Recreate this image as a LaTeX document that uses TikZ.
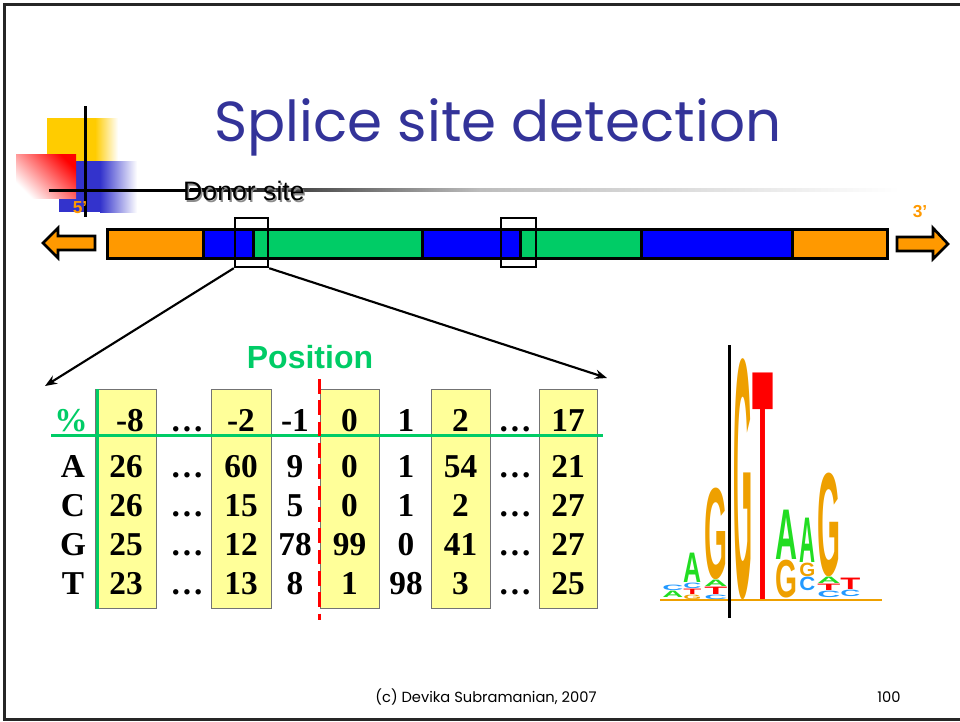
\documentclass[tikz,border=0pt]{standalone}
\usepackage{fontspec}
\usepackage{graphicx}
\setmainfont{Liberation Serif}
\setsansfont{Liberation Sans}
\newfontfamily\slidefont{Poppins}
\usetikzlibrary{arrows.meta, positioning}
\definecolor{ssOrange}{HTML}{FF9900}
\definecolor{ssBlue}{HTML}{0000FF}
\definecolor{ssGreen}{HTML}{00CC66}
\definecolor{ssTitle}{HTML}{333399}
\definecolor{ssYellow}{HTML}{FFFF99}
\definecolor{ssRed}{HTML}{FF0000}
\definecolor{ssGold}{HTML}{FFCC00}
\definecolor{ssDeco}{HTML}{3333CC}
\definecolor{lgA}{HTML}{22DD22}
\definecolor{lgC}{HTML}{2299FF}
\definecolor{lgG}{HTML}{EEA000}
\definecolor{lgT}{HTML}{FF0000}
\tikzset{
  exon/.style       = {draw=black, line width=2.25pt},
  blockarrow/.style = {fill=ssOrange, draw=black, line width=2pt, line join=miter},
  zoombox/.style    = {draw=black, line width=1.8pt, inner sep=0pt,
                       minimum width=24.75pt, minimum height=36.75pt},
  zoomarrow/.style  = {-{Stealth[length=9pt, width=7pt]}, line width=1.6pt},
  poscol/.style     = {fill=ssYellow, draw=black!55, line width=0.75pt},
  cell/.style       = {font=\fontsize{25}{25}\selectfont\bfseries, anchor=base, inner sep=0pt},
  gridline/.style   = {ssGreen, line width=2.25pt},
  cutline/.style    = {ssRed, line width=2.25pt, dash pattern=on 11pt off 5pt},
  primelbl/.style   = {font=\sffamily\bfseries\fontsize{13}{13}\selectfont, text=ssOrange, inner sep=0pt},
  logoltr/.style    = {inner sep=0pt, font=\sffamily\bfseries},
}
\newcommand{\dotcell}{\ldots}
% stretched logo letter: name, x0, x1, ytop, ybottom, colour, letter
\newcommand{\logoletter}[7]{%
  \pgfmathsetlengthmacro{\lgw}{(#3-#2)*0.75}%
  \pgfmathsetlengthmacro{\lgh}{(#5-#4-0.6)*0.75}%
  \node[logoltr, text=#6, anchor=south west] (#1) at (#2,#5) {\resizebox{\lgw}{\lgh}{#7}};}

\begin{document}
\begin{tikzpicture}[x=0.75pt, y=-0.75pt]
  \useasboundingbox (0,0) rectangle (960,721);
  \draw[black!85, line width=2.25pt] (960,4) -- (4,4) -- (4,719) -- (960,719);

  % corner decoration
  \fill[ssGold] (47,118) rectangle (95,162);
  \shade[left color=ssGold, right color=white] (95,118) rectangle (118,162);
  \fill[ssDeco] (59,161) rectangle (100,212);
  \shade[left color=ssDeco, right color=white] (100,161) rectangle (137,212);
  \shade[top color=ssRed, bottom color=white, shading angle=-45] (16,154) rectangle (76,198);
  \draw[line width=2.25pt] (85,106) -- (85,217);
  \fill[black] (49,188.5) rectangle (190,191.5);
  \shade[left color=black, right color=black!26] (190,188.5) rectangle (480,191.5);
  \shade[left color=black!26, right color=white] (480,188.5) rectangle (900,191.5);

  \node[font=\slidefont\fontsize{42.3}{42.3}\selectfont, text=ssTitle] (title) at (498,127) {Splice site detection};
  \node[font=\sffamily\fontsize{20}{20}\selectfont, inner sep=0pt, text=black!45] (donorshd) at (245.5,192.5) {Donor site};
  \node[font=\sffamily\fontsize{20}{20}\selectfont, inner sep=0pt] (donorlbl) at (244,191) {Donor site};
  \node[primelbl] (five) at (80,208) {5'};
  \node[primelbl] (three) at (920,212) {3'};

  % gene
  \filldraw[blockarrow] (43,243) -- (58,228) -- (58,236) -- (95,236) -- (95,250) -- (58,250) -- (58,258) -- cycle;
  \filldraw[blockarrow] (948,244) -- (933,228) -- (933,237) -- (897,237) -- (897,251) -- (933,251) -- (933,259) -- cycle;
  \filldraw[exon, fill=ssOrange] (107,229) rectangle (203,258);
  \filldraw[exon, fill=ssBlue]   (203,229) rectangle (253,258);
  \filldraw[exon, fill=ssGreen]  (253,229) rectangle (422,258);
  \filldraw[exon, fill=ssBlue]   (422,229) rectangle (520,258);
  \filldraw[exon, fill=ssGreen]  (520,229) rectangle (641,258);
  \filldraw[exon, fill=ssBlue]   (641,229) rectangle (792,258);
  \filldraw[exon, fill=ssOrange] (792,229) rectangle (887,258);
  \node[zoombox] (donorbox) at (251.5,242.5) {};
  \node[zoombox, minimum width=26.25pt] (acceptbox) at (518.5,242.5) {};

  \coordinate (tblleft) at (45,386);
  \coordinate (tblright) at (607,378);
  \draw[zoomarrow] (donorbox.south west) -- (tblleft);
  \draw[zoomarrow] (donorbox.south east) -- (tblright);

  % count table
  \node[font=\sffamily\bfseries\fontsize{24}{24}\selectfont, text=ssGreen, inner sep=0pt] (poslbl) at (310,357) {Position};
  \foreach \xa/\xb in {95/156, 211/271, 320/379, 431/490, 539/597}
    \filldraw[poscol] (\xa,389) rectangle (\xb,608);

  \node[cell, text=ssGreen] (pct) at (71,431) {\%};
  \foreach \v [count=\c] in {-8,\dotcell,-2,-1,0,1,2,\dotcell,17} {
    \pgfmathsetmacro{\px}{{130,187,241,295,349.5,406,460.5,515,568}[\c-1]}
    \node[cell] (hd\c) at (\px,431) {\v};
  }
  \foreach \r/\yb/\vals in {A/477/{26,\dotcell,60,9,0,1,54,\dotcell,21},
                            C/516/{26,\dotcell,15,5,0,1,2,\dotcell,27},
                            G/555/{25,\dotcell,12,78,99,0,41,\dotcell,27},
                            T/594/{23,\dotcell,13,8,1,98,3,\dotcell,25}} {
    \node[cell] (base\r) at (73,\yb) {\r};
    \foreach \v [count=\c] in \vals {
      \pgfmathsetmacro{\px}{{126,187,241,295,349.5,406,460.5,515,568}[\c-1]}
      \node[cell] (cell\r\c) at (\px,\yb) {\v};
    }
  }
  \draw[gridline] (51,435) -- (603,435);
  \draw[gridline] (97,389) -- (97,609);
  \draw[cutline] (319,379) -- (319,620);

  % sequence logo
  \draw[lgG, line width=1pt] (660,600) -- (882,600);
  \logoletter{lg1c}{662}{683}{585}{591}{lgC}{C}
  \logoletter{lg1a}{662}{683}{591}{598}{lgA}{A}
  \logoletter{lg2a}{683}{701}{553}{583}{lgA}{A}
  \logoletter{lg2c}{683}{701}{583}{589}{lgC}{C}
  \logoletter{lg2t}{683}{701}{589}{595}{lgT}{T}
  \logoletter{lg2g}{683}{701}{595}{600}{lgG}{G}
  \logoletter{lg3g}{704}{727}{489}{580}{lgG}{G}
  \logoletter{lg3a}{704}{727}{580}{587}{lgA}{A}
  \logoletter{lg3t}{704}{727}{587}{595}{lgT}{T}
  \logoletter{lg3c}{704}{727}{595}{600}{lgC}{C}
  \logoletter{lg4g}{733}{752}{362}{600}{lgG}{G}
  \logoletter{lg5t}{752}{773}{373}{600}{lgT}{T}
  \logoletter{lg6a}{775}{797}{510}{560}{lgA}{A}
  \logoletter{lg6g}{775}{797}{560}{598}{lgG}{G}
  \logoletter{lg7a}{799}{815}{518}{563}{lgA}{A}
  \logoletter{lg7g}{799}{815}{563}{577}{lgG}{G}
  \logoletter{lg7c}{799}{815}{577}{591}{lgC}{C}
  \logoletter{lg8g}{817}{840}{474}{577}{lgG}{G}
  \logoletter{lg8a}{817}{840}{577}{584}{lgA}{A}
  \logoletter{lg8t}{817}{840}{584}{591}{lgT}{T}
  \logoletter{lg8c}{817}{840}{591}{598}{lgC}{C}
  \logoletter{lg9t}{840}{860}{578}{590}{lgT}{T}
  \logoletter{lg9c}{840}{860}{590}{597}{lgC}{C}
  \draw[line width=2.25pt] (729,345) -- (729,618);

  \node[font=\slidefont\fontsize{11}{11}\selectfont] (credit) at (486,697) {(c) Devika Subramanian, 2007};
  \node[font=\slidefont\fontsize{11}{11}\selectfont] (pageno) at (889,697) {100};
\end{tikzpicture}
\end{document}
